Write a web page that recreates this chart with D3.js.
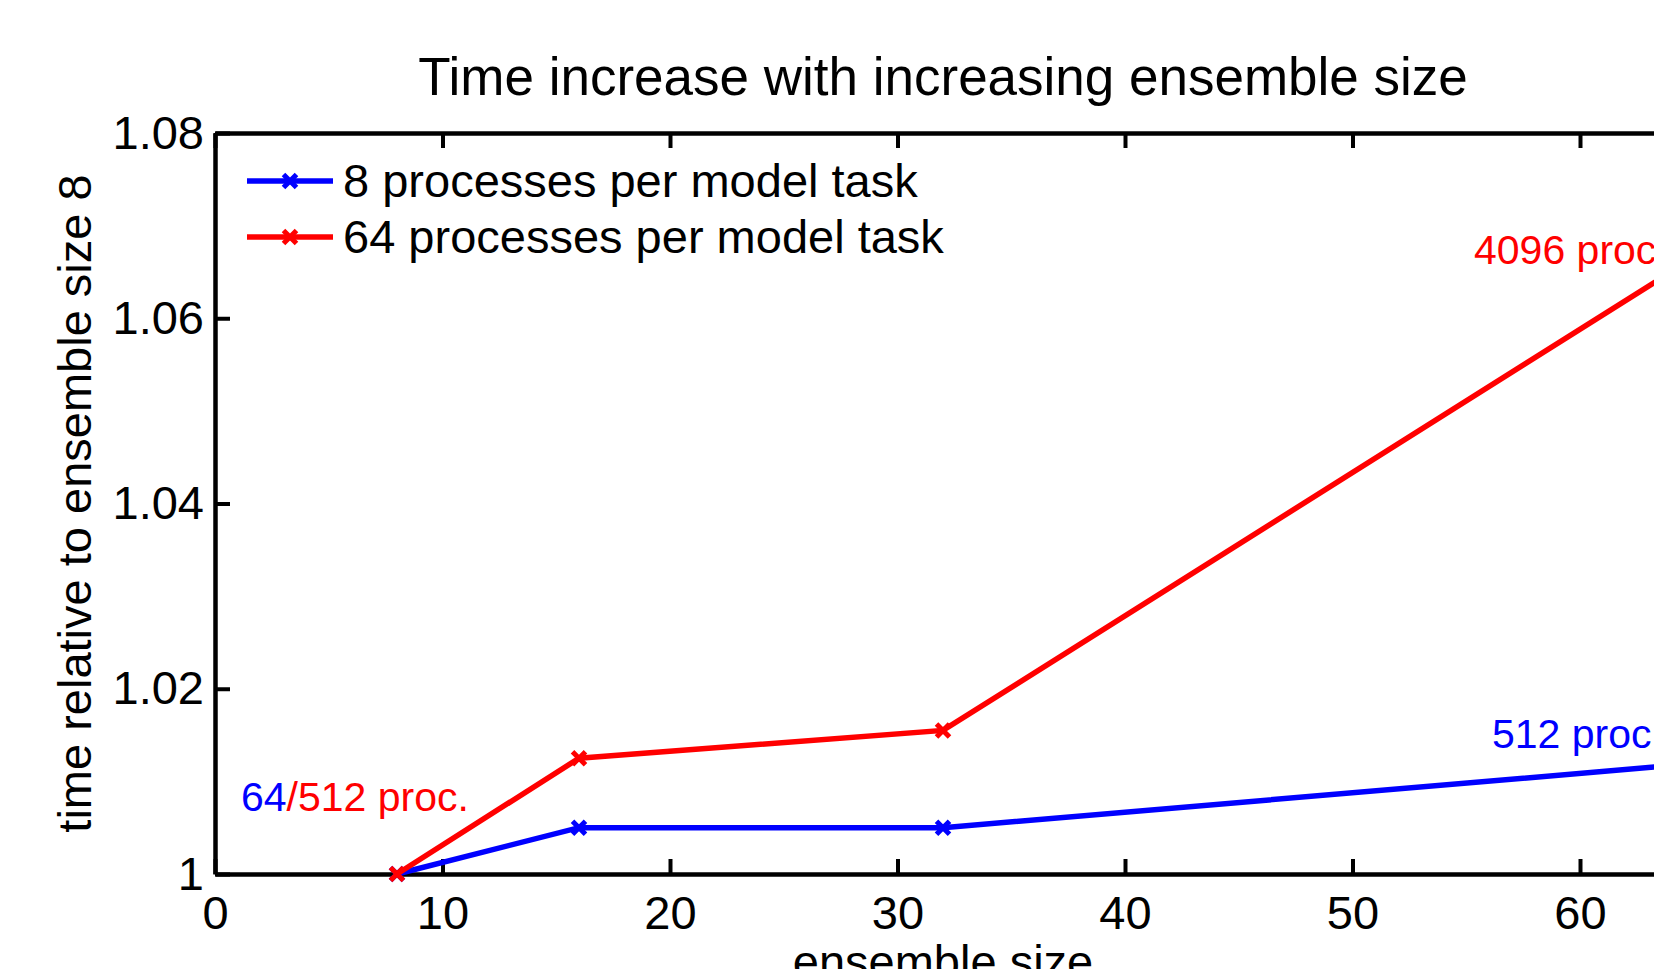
<html>
<head>
<script src="https://d3js.org/d3.v7.min.js"></script>
<style>
  body { margin: 0; background: #fff; }
  text { font-family: "Liberation Sans", Arial, Helvetica, sans-serif; }
</style>
</head>
<body>
<div id="chart"></div>
<script>

// data
var ensembleSizes = [8, 16, 32, 64]
var time8procs = [1, 1.005, 1.005, 1.0117]
var time64procs = [1, 1.0125, 1.0155, 1.065]
var xTicks = [0, 10, 20, 30, 40, 50, 60]
var yTicks = [1, 1.02, 1.04, 1.06, 1.08]
var yTickLabels = ["1", "1.02", "1.04", "1.06", "1.08"]
var seriesNames = ["8 processes per model task", "64 processes per model task"]
var seriesColors = ["#0000ff", "#ff0000"]

var svg_width = 1654
var svg_height = 969

var svg = d3.select("#chart").append("svg")
  .attr("width", svg_width)
  .attr("height", svg_height)
  .style("display", "block")

svg.append("rect")
  .attr("width", svg_width)
  .attr("height", svg_height)
  .style("fill", "white")

var plotLeft = 215, plotRight = 1671, plotTop = 133, plotBottom = 874

var x = d3.scaleLinear().domain([0, 64]).range([plotLeft, plotRight])
var y = d3.scaleLinear().domain([1, 1.08]).range([plotBottom, plotTop])

var fontSize = 47

// axes (ticks pointing inward like matlab)
svg.append("g")
  .attr("transform", "translate(0," + plotBottom + ")")
  .call(d3.axisBottom(x).tickValues(xTicks).tickSize(-15).tickPadding(22).tickSizeOuter(0))

svg.append("g")
  .attr("transform", "translate(0," + plotTop + ")")
  .call(d3.axisTop(x).tickValues(xTicks).tickSize(-15).tickSizeOuter(0).tickFormat(""))

svg.append("g")
  .attr("transform", "translate(" + plotLeft + ",0)")
  .call(d3.axisLeft(y).tickValues(yTicks).tickSize(-15).tickPadding(11).tickSizeOuter(0)
    .tickFormat(function(d, i) { return yTickLabels[i] }))

svg.append("g")
  .attr("transform", "translate(" + plotRight + ",0)")
  .call(d3.axisRight(y).tickValues(yTicks).tickSize(-15).tickSizeOuter(0).tickFormat(""))

svg.selectAll(".domain").style("stroke", "black").style("stroke-width", 4.5)
svg.selectAll(".tick line").style("stroke", "black").style("stroke-width", 4)
svg.selectAll(".tick text")
  .style("font-size", fontSize + "px")
  .style("fill", "black")
  .style("font-family", "'Liberation Sans', Arial, sans-serif")

// title and labels
svg.append("text")
  .text("Time increase with increasing ensemble size")
  .attr("x", (plotLeft + plotRight) / 2)
  .attr("y", 95)
  .attr("text-anchor", "middle")
  .style("font-size", "53px")

svg.append("text")
  .text("ensemble size")
  .attr("x", (plotLeft + plotRight) / 2)
  .attr("y", 978)
  .attr("text-anchor", "middle")
  .style("font-size", fontSize + "px")

svg.append("text")
  .text("time relative to ensemble size 8")
  .attr("transform", "translate(91," + ((plotTop + plotBottom) / 2) + ") rotate(-90)")
  .attr("text-anchor", "middle")
  .style("font-size", fontSize + "px")

// lines
var line = d3.line()
  .x(function(d) { return x(d[0]) })
  .y(function(d) { return y(d[1]) })

var allSeries = [time8procs, time64procs]

var marker = function(g, cx, cy, color) {
  var s = 6.5
  g.append("path")
    .attr("d", "M" + (cx - s) + "," + (cy - s) + "L" + (cx + s) + "," + (cy + s) +
      "M" + (cx - s) + "," + (cy + s) + "L" + (cx + s) + "," + (cy - s))
    .style("stroke", color)
    .style("stroke-width", 5)
    .style("fill", "none")
}

allSeries.forEach(function(vals, k) {
  var pts = ensembleSizes.map(function(e, i) { return [e, vals[i]] })
  var g = svg.append("g")
  g.append("path")
    .attr("d", line(pts))
    .style("fill", "none")
    .style("stroke", seriesColors[k])
    .style("stroke-width", 5.5)
  pts.forEach(function(p) { marker(g, x(p[0]), y(p[1]), seriesColors[k]) })
})

// legend
var legendY = [181, 237]
seriesNames.forEach(function(name, k) {
  var g = svg.append("g")
  g.append("line")
    .attr("x1", 247).attr("x2", 333)
    .attr("y1", legendY[k]).attr("y2", legendY[k])
    .style("stroke", seriesColors[k])
    .style("stroke-width", 5.5)
  marker(g, 290, legendY[k], seriesColors[k])
  g.append("text")
    .text(name)
    .attr("x", 343)
    .attr("y", legendY[k])
    .attr("dy", "0.35em")
    .style("font-size", fontSize + "px")
})

// annotations
var ann = svg.append("text")
  .attr("x", 241)
  .attr("y", 811)
  .style("font-size", "41px")
ann.append("tspan").text("64").style("fill", "#0000ff")
ann.append("tspan").text("/512 proc.").style("fill", "#ff0000")

svg.append("text")
  .text("4096 proc.")
  .attr("x", 1474)
  .attr("y", 264)
  .style("font-size", "41px")
  .style("fill", "#ff0000")

svg.append("text")
  .text("512 proc.")
  .attr("x", 1492)
  .attr("y", 748)
  .style("font-size", "41px")
  .style("fill", "#0000ff")

</script>
</body>
</html>
